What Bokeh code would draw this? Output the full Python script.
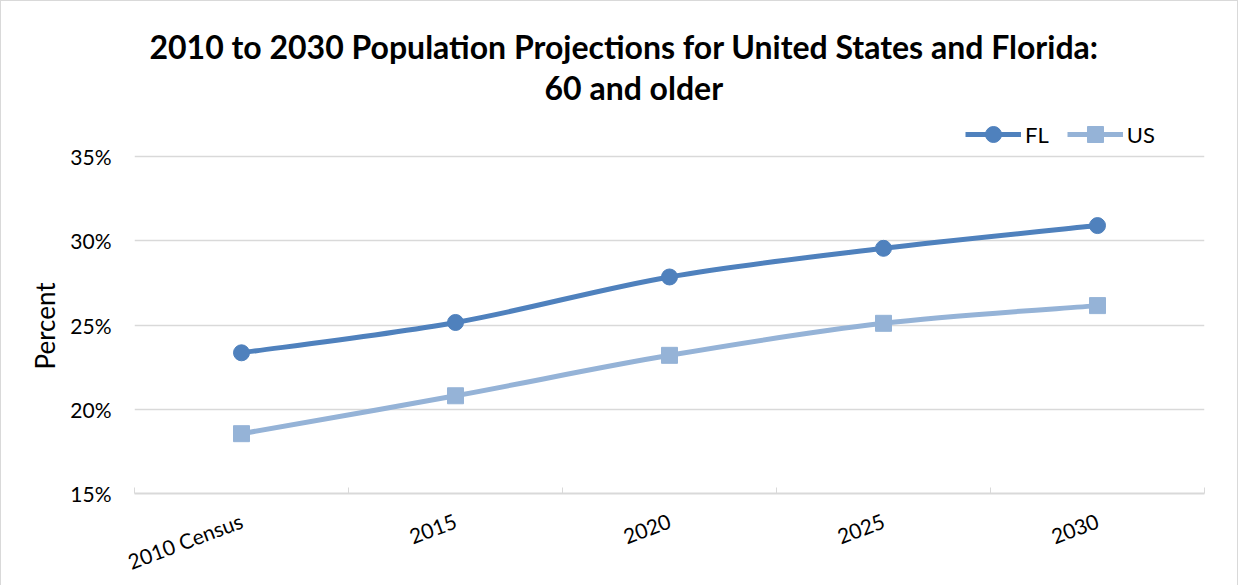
from bokeh.plotting import figure
from bokeh.models import (Range1d, FixedTicker, PrintfTickFormatter, Legend, LegendItem, Title)
from bokeh.embed import file_html
from bokeh.resources import INLINE

# ---- data ----
categories = ["2010 Census", "2015", "2020", "2025", "2030"]
fl_values = [23.35, 25.15, 27.85, 29.55, 30.9]
us_values = [18.55, 20.8, 23.2, 25.1, 26.15]
y_ticks = [15, 20, 25, 30, 35]
title_lines = ["2010 to 2030 Population Projections for United States and Florida:", "60 and older"]
y_title = "Percent"

FL_COLOR = "#4f81bd"
US_COLOR = "#95b3d7"
GRID = "#d9d9d9"
FONT = "Lato"

xs = [i + 0.5 for i in range(len(categories))]

# frame: 35% gridline at y=155, 15% at y=492 -> 16.85 px per percent; extra room above for legend
PX_PER_UNIT = 337 / 20.0
FRAME_TOP = 105
y_end = 35 + (155 - FRAME_TOP) / PX_PER_UNIT

p = figure(width=1236, height=582, output_backend="svg", toolbar_location=None,
           x_range=Range1d(0, len(categories)), y_range=Range1d(15, y_end),
           frame_width=1070, frame_height=492 - FRAME_TOP,
           min_border_left=133, min_border_right=33, min_border_top=FRAME_TOP, min_border_bottom=90)
p.styles = {"border": "1px solid #d9d9d9"}
p.outline_line_color = None
p.background_fill_color = "white"
p.border_fill_color = "white"

p.title = None
# added innermost first
p.add_layout(Title(text=title_lines[1], align="left", offset=410, text_font=FONT,
                   text_font_size="32px", text_font_style="bold", text_color="black",
                   standoff=0), "above")
p.add_layout(Title(text=title_lines[0], align="left", offset=15, text_font=FONT,
                   text_font_size="32px", text_font_style="bold", text_color="black",
                   standoff=0), "above")

# axes
p.xaxis.ticker = FixedTicker(ticks=xs, minor_ticks=list(range(len(categories) + 1)))
p.xaxis.major_label_overrides = {x: c for x, c in zip(xs, categories)}
p.xaxis.major_label_orientation = 0.36
p.xaxis.major_tick_line_color = None
p.xaxis.minor_tick_in = 6
p.xaxis.minor_tick_out = 0
p.xaxis.minor_tick_line_color = GRID
p.xaxis.axis_line_color = GRID
p.xaxis.axis_line_width = 2
p.xaxis.major_label_text_font = FONT
p.xaxis.major_label_text_font_size = "21px"
p.xaxis.major_label_text_color = "black"
p.xaxis.major_label_standoff = 20

p.yaxis.ticker = FixedTicker(ticks=y_ticks)
p.yaxis.formatter = PrintfTickFormatter(format="%d%%")
p.yaxis.axis_line_color = None
p.yaxis.major_tick_line_color = None
p.yaxis.minor_tick_line_color = None
p.yaxis.major_label_text_font = FONT
p.yaxis.major_label_text_font_size = "21px"
p.yaxis.major_label_text_color = "black"
p.yaxis.major_label_standoff = 17

# y-axis title, centred on the 15%-35% span rather than the whole frame
p.add_layout(Title(text=y_title, align="left", offset=124, text_font=FONT,
                   text_font_size="26px", text_font_style="normal", text_color="black",
                   standoff=14), "left")

p.xgrid.grid_line_color = None
p.ygrid.grid_line_color = GRID
p.ygrid.grid_line_width = 1.5
p.ygrid.ticker = FixedTicker(ticks=y_ticks)


def smooth(xv, yv):
    n = len(xv)
    px = [xv[0]] + list(xv) + [xv[-1]]
    py = [yv[0]] + list(yv) + [yv[-1]]
    x0, y0, x1, y1, cx0, cy0, cx1, cy1 = [], [], [], [], [], [], [], []
    for i in range(n - 1):
        j = i + 1
        x0.append(px[j]); y0.append(py[j])
        x1.append(px[j + 1]); y1.append(py[j + 1])
        cx0.append(px[j] + (px[j + 1] - px[j - 1]) / 6)
        cy0.append(py[j] + (py[j + 1] - py[j - 1]) / 6)
        cx1.append(px[j + 1] - (px[j + 2] - px[j]) / 6)
        cy1.append(py[j + 1] - (py[j + 2] - py[j]) / 6)
    return dict(x0=x0, y0=y0, x1=x1, y1=y1, cx0=cx0, cy0=cy0, cx1=cx1, cy1=cy1)


items = []
for name, vals, color, marker in [("FL", fl_values, FL_COLOR, "circle"),
                                  ("US", us_values, US_COLOR, "square")]:
    br = p.bezier(**smooth(xs, vals), line_color=color, line_width=5)
    sr = p.scatter(xs, vals, marker=marker, size=16, fill_color=color, line_color=color)
    items.append(LegendItem(label=name, renderers=[br, sr], index=0))

legend = Legend(items=items, orientation="horizontal", location=(831, 339),
                label_text_font=FONT, label_text_font_size="22px", label_text_color="black",
                glyph_width=56, glyph_height=40, spacing=18, label_standoff=4,
                border_line_color=None, background_fill_alpha=0, padding=0, margin=0)
p.add_layout(legend)

html = file_html(p, INLINE)
open("out.html", "w").write(html)
